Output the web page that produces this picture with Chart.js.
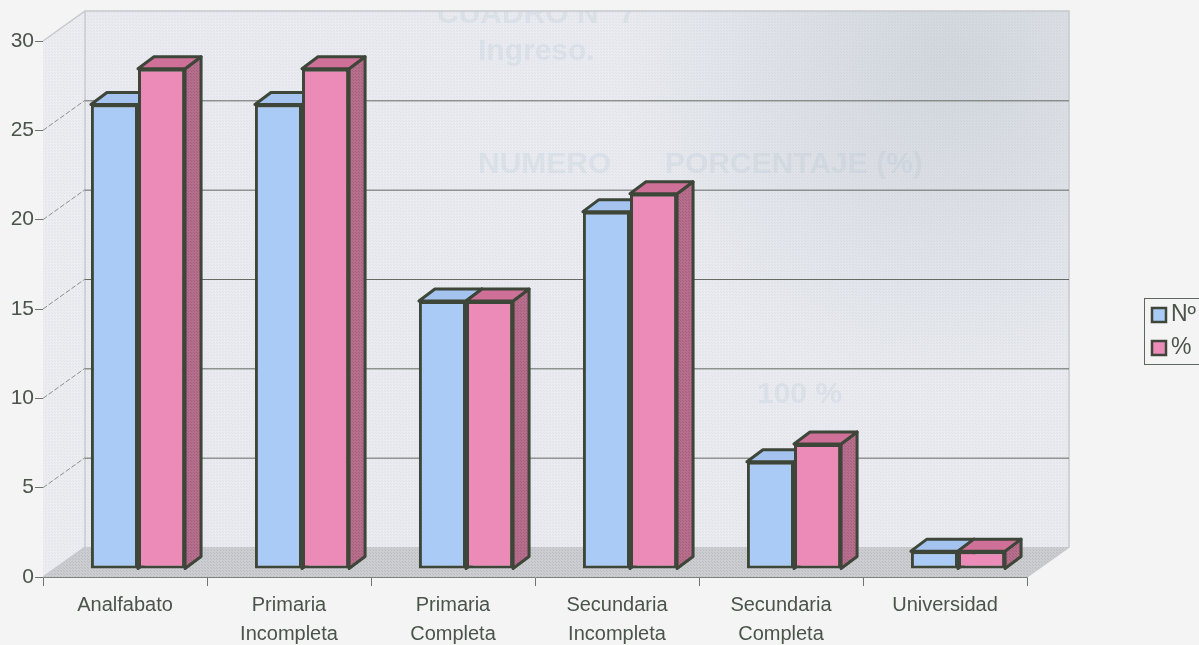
<!DOCTYPE html>
<html lang="es">
<head>
    <meta charset="UTF-8">
    <title>Nivel de instrucción</title>
    <script src="https://cdn.jsdelivr.net/npm/chart.js"></script>
    <style>
        html, body { margin: 0; padding: 0; background-color: #f3f4f3; overflow: hidden; }
        canvas { display: block; }
    </style>
</head>
<body>
    <canvas id="myChart" width="1199" height="645"></canvas>

    <script>
        const categories = ['Analfabato', ['Primaria', 'Incompleta'], ['Primaria', 'Completa'], ['Secundaria', 'Incompleta'], ['Secundaria', 'Completa'], 'Universidad'];
        const numero = [26, 26, 15, 20, 6, 1];
        const porcentaje = [28, 28, 15, 21, 7, 1];
        const seriesNames = ['Nº', '%'];
        const tickLabels = [0, 5, 10, 15, 20, 25, 30];

        const textColor = '#4a544a';
        const lineColor = '#3d4638';
        const frontColors = ['#a9cbf5', '#ec8bb8'];
        const topColors = ['#a4c3ef', '#cf7098'];
        const sideColor = '#b76d8c';

        // profundidad de la caja 3D y de las barras
        const wall = { dx: 42, dy: -30 };
        const barShift = { dx: 13, dy: -8 };
        const barDepth = { dx: 16, dy: -12 };

        // textura de escaneo
        function dither(color) {
            const c = document.createElement('canvas');
            c.width = 3; c.height = 3;
            const p = c.getContext('2d');
            p.fillStyle = color;
            p.fillRect(0, 0, 1, 1);
            p.fillRect(1, 1, 1, 1);
            return p.createPattern(c, 'repeat');
        }

        function poly(ctx, pts, fill, stroke, lw) {
            ctx.beginPath();
            pts.forEach((p, i) => i ? ctx.lineTo(p[0], p[1]) : ctx.moveTo(p[0], p[1]));
            ctx.closePath();
            if (fill) { ctx.fillStyle = fill; ctx.fill(); }
            if (stroke) { ctx.strokeStyle = stroke; ctx.lineWidth = lw; ctx.stroke(); }
        }

        const box3d = {
            id: 'box3d',
            beforeDatasetsDraw(chart) {
                const ctx = chart.ctx;
                const a = chart.chartArea;
                const y = chart.scales.y;
                const bx = a.left + wall.dx, bt = a.top + wall.dy, bb = a.bottom + wall.dy, br = a.right + wall.dx;
                ctx.save();

                // pared del fondo
                ctx.fillStyle = '#e9ebf0';
                ctx.fillRect(bx, bt, br - bx, bb - bt);
                const shade = ctx.createRadialGradient(950, 60, 20, 950, 60, 330);
                shade.addColorStop(0, 'rgba(175,185,195,0.38)');
                shade.addColorStop(1, 'rgba(175,185,195,0)');
                ctx.fillStyle = shade;
                ctx.fillRect(bx, bt, br - bx, bb - bt);

                // lo que se transparenta del reverso de la hoja
                ctx.save();
                ctx.beginPath();
                ctx.rect(bx, bt, br - bx, bb - bt);
                ctx.clip();
                ctx.fillStyle = 'rgba(170,190,205,0.2)';
                ctx.font = 'bold 30px "Liberation Sans"';
                ctx.textBaseline = 'middle';
                ctx.fillText('CUADRO N° 7', 437, 15);
                ctx.fillText('Ingreso.', 478, 52);
                ctx.fillText('NUMERO', 478, 165);
                ctx.fillText('PORCENTAJE (%)', 665, 165);
                ctx.fillText('100 %', 757, 395);
                ctx.restore();

                // pared izquierda y suelo
                poly(ctx, [[a.left, a.top], [bx, bt], [bx, bb], [a.left, a.bottom]], '#ebedf0');
                poly(ctx, [[a.left, a.bottom], [a.right, a.bottom], [br, bb], [bx, bb]], '#cbcdd0');
                const tex = dither('rgba(110,120,140,0.08)');
                ctx.fillStyle = tex;
                ctx.fillRect(bx, bt, br - bx, bb - bt);
                poly(ctx, [[a.left, a.top], [bx, bt], [bx, bb], [a.left, a.bottom]], tex);
                poly(ctx, [[a.left, a.bottom], [a.right, a.bottom], [br, bb], [bx, bb]], dither('rgba(90,95,100,0.15)'));

                // bordes de la caja
                ctx.strokeStyle = '#c6c9cd';
                ctx.lineWidth = 1.5;
                ctx.beginPath();
                ctx.moveTo(a.left, a.top); ctx.lineTo(bx, bt); ctx.lineTo(br, bt); ctx.lineTo(br, bb); ctx.lineTo(a.right, a.bottom);
                ctx.moveTo(bx, bt); ctx.lineTo(bx, bb); ctx.lineTo(a.left, a.bottom);
                ctx.stroke();

                // lineas de la grilla
                y.ticks.forEach(t => {
                    const py = y.getPixelForValue(t.value);
                    if (t.value === 0 || t.value === 30) return;
                    ctx.strokeStyle = '#8d918c';
                    ctx.lineWidth = 1;
                    ctx.setLineDash([5, 2]);
                    ctx.beginPath();
                    ctx.moveTo(a.left, py);
                    ctx.lineTo(bx, py + wall.dy);
                    ctx.stroke();
                    ctx.setLineDash([]);
                    ctx.strokeStyle = '#656a63';
                    ctx.beginPath();
                    ctx.moveTo(bx, py + wall.dy + 0.5);
                    ctx.lineTo(br, py + wall.dy + 0.5);
                    ctx.stroke();
                });

                // caras superior y lateral de las barras
                ctx.translate(barShift.dx, barShift.dy);
                const sideTex = dither('rgba(90,50,70,0.22)');
                ctx.lineJoin = 'round';
                chart.data.datasets.forEach((ds, i) => {
                    chart.getDatasetMeta(i).data.forEach(bar => {
                        const l = bar.x - bar.width / 2, r = bar.x + bar.width / 2;
                        const t = bar.y, b = bar.base;
                        const d = barDepth;
                        const side = [[r, t], [r + d.dx, t + d.dy], [r + d.dx, b + d.dy], [r, b]];
                        poly(ctx, side, sideColor, lineColor, 3);
                        poly(ctx, side, sideTex);
                        poly(ctx, [[l, t], [l + d.dx, t + d.dy], [r + d.dx, t + d.dy], [r, t]], topColors[i], lineColor, 3);
                    });
                });
                ctx.restore();

                // las caras frontales las dibuja Chart.js, desplazadas
                ctx.save();
                ctx.translate(barShift.dx, barShift.dy);
            },
            afterDatasetsDraw(chart) {
                chart.ctx.restore();
            },
            afterDraw(chart) {
                // leyenda
                const ctx = chart.ctx;
                ctx.save();
                ctx.fillStyle = '#f3f4f3';
                ctx.strokeStyle = '#5f655f';
                ctx.lineWidth = 1;
                ctx.fillRect(1144.5, 298.5, 60, 66);
                ctx.strokeRect(1144.5, 298.5, 60, 66);
                ctx.font = '23px "Liberation Sans"';
                ctx.textBaseline = 'middle';
                seriesNames.forEach((name, i) => {
                    const sy = 308 + i * 33;
                    ctx.fillStyle = frontColors[i];
                    ctx.strokeStyle = lineColor;
                    ctx.lineWidth = 2.5;
                    ctx.fillRect(1152, sy, 14, 14);
                    ctx.strokeRect(1152, sy, 14, 14);
                    ctx.fillStyle = textColor;
                    ctx.fillText(name, 1171, sy + 7);
                });
                ctx.restore();
            }
        };

        new Chart(document.getElementById('myChart'), {
            type: 'bar',
            data: {
                labels: categories,
                datasets: [
                    { label: seriesNames[0], data: numero, backgroundColor: frontColors[0] },
                    { label: seriesNames[1], data: porcentaje, backgroundColor: frontColors[1] }
                ]
            },
            options: {
                responsive: false,
                animation: false,
                clip: false,
                layout: { autoPadding: false, padding: { top: 41, right: 172, bottom: 0, left: 0 } },
                datasets: {
                    bar: {
                        categoryPercentage: 0.574,
                        barPercentage: 1,
                        borderColor: lineColor,
                        borderWidth: 3,
                        borderSkipped: false
                    }
                },
                scales: {
                    x: {
                        afterFit(scale) { scale.height = 68; },
                        border: { color: '#7d827c', width: 1 },
                        grid: { drawOnChartArea: false, color: '#6f746e', tickLength: 9 },
                        ticks: { color: textColor, font: { family: '"Liberation Sans"', size: 20, lineHeight: 1.45 }, padding: 5, maxRotation: 0, autoSkip: false }
                    },
                    y: {
                        min: 0,
                        max: 30,
                        afterFit(scale) { scale.width = 43; },
                        afterBuildTicks(scale) { scale.ticks = tickLabels.map(v => ({ value: v })); },
                        border: { color: '#8a8f89', width: 1 },
                        grid: { drawOnChartArea: false, color: '#6f746e', tickLength: 8 },
                        ticks: { color: textColor, font: { family: '"Liberation Sans"', size: 21 }, padding: 1 }
                    }
                },
                plugins: {
                    legend: { display: false },
                    tooltip: { enabled: false }
                }
            },
            plugins: [box3d]
        });
    </script>
</body>
</html>
